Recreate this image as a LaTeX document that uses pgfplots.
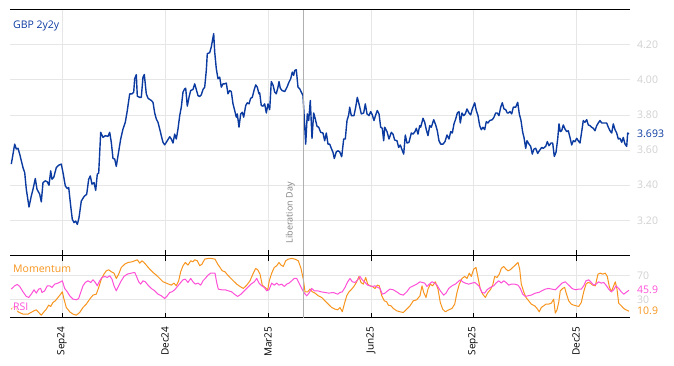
\documentclass[border=0pt]{standalone}
\usepackage{pgfplots}
\pgfplotsset{compat=1.18}
\usepackage{fontspec}
\setmainfont{Open Sans}
\definecolor{gbpblue}{HTML}{0B3AA0}
\definecolor{mom}{HTML}{F7941D}
\definecolor{rsi}{HTML}{FF50D8}
\definecolor{gridgray}{HTML}{E6E6E6}
\definecolor{tickgray}{HTML}{D0D0D0}
\definecolor{libgray}{HTML}{B0B0B0}
\newcommand{\lf}{\fontsize{10.5bp}{12bp}\selectfont}
\newcommand{\tf}{\fontsize{10bp}{12bp}\selectfont}
\begin{document}
\begin{tikzpicture}
\useasboundingbox (0,0) rectangle (674bp,-366bp);
\begin{axis}[
  at={(10bp,-9.5bp)}, anchor=north west,
  width=620bp, height=246bp, scale only axis,
  xmin=10, xmax=630, ymin=3.0, ymax=4.4,
  clip=false,
  separate axis lines,
  axis x line*=box, axis y line*=right,
  x axis line style={black, line width=1bp, -},
  y axis line style={draw=none, -},
  xtick={62,165,268,371,473,576}, xticklabels={},
  xtick pos=lower, tick align=inside,
  major tick length=6bp,
  xtick style={black, line width=0.8bp},
  ytick={3.2,3.4,3.6,3.8,4.0,4.2},
  ytick pos=upper, yticklabel pos=upper,
  ytick style={draw=none},
  yticklabel style={anchor=west, inner sep=0pt, xshift=7bp, text=tickgray, font=\lf},
  /pgf/number format/.cd, fixed, fixed zerofill, precision=2, assume math mode=true,
  /pgfplots/.cd,
  extra y ticks={3.693}, extra y tick labels={3.693},
  extra y tick style={grid=none, yticklabel style={text=gbpblue}},
  grid=major, major grid style={gridgray, line width=0.6bp},
]
\addplot[gbpblue, line width=1.4bp, line join=round] table {
11.3 3.52
14.7 3.634
16.3 3.606
18 3.61
19.7 3.577
23 3.50
24.7 3.472
26.3 3.377
29 3.276
31.3 3.339
33 3.377
35.3 3.438
37 3.377
39.7 3.349
41.3 3.305
43 3.415
45.3 3.425
47.3 3.419
49 3.40
50.7 3.482
52 3.434
53.7 3.444
56.3 3.50
58.7 3.514
61.3 3.52
63 3.472
65.3 3.396
67.3 3.381
68.7 3.387
70.7 3.282
72.3 3.206
74 3.187
75.7 3.196
77.3 3.177
79 3.215
81.3 3.31
84 3.335
86.7 3.349
88.7 3.434
90.3 3.453
92 3.406
94 3.415
95.7 3.371
97.3 3.463
98.7 3.469
100.7 3.701
103 3.672
105.3 3.682
108 3.678
109.7 3.701
111.3 3.644
113 3.552
114.7 3.549
116.3 3.507
118 3.568
120.7 3.663
123 3.72
125.3 3.758
127.3 3.825
129.7 3.92
132 3.92
133.7 3.93
134.7 4.006
136.3 4.029
137.3 3.907
139.7 3.90
141.3 3.90
143 4.015
144.3 4.03
146.3 3.92
148 3.895
151.3 3.882
153 3.872
154.7 3.811
156.3 3.777
158 3.758
159.7 3.72
161.3 3.682
163 3.644
164.7 3.63
166.3 3.644
169.7 3.676
171.3 3.663
173 3.64
174.7 3.691
176.3 3.663
178 3.72
179.7 3.796
181.3 3.844
183 3.93
184.7 3.949
185.7 3.952
187.3 3.85
189 3.90
190.7 3.939
193 3.945
194.7 3.977
196.3 3.945
198 3.91
199.7 3.905
201.3 3.914
203 3.945
204.7 3.958
206.3 4.053
207.3 4.149
209.7 4.154
211.3 4.187
213.7 4.263
214.7 4.158
216.3 4.063
218 4.006
219.7 4.015
221.3 3.958
223 3.977
224.7 3.977
226.3 3.981
228 3.92
229.7 3.939
231.3 3.933
233 3.863
234.7 3.825
236.3 3.787
237.3 3.806
239 3.73
240.7 3.806
242.3 3.815
243.7 3.787
245.7 3.853
247.3 3.869
249 3.863
250.7 3.895
252.3 3.90
254 3.939
255.7 3.971
257.3 3.958
259 3.92
259.7 3.926
261.3 3.853
263 3.85
264.7 3.863
266.3 3.811
268 3.863
269.7 3.83
271.3 3.99
273 3.971
274.7 3.93
276.3 3.92
278 3.958
279 3.99
280.3 3.952
282 3.939
284.7 3.933
287 3.958
289 3.987
290.7 4.006
292.3 4.044
293.7 4.025
294.7 4.053
296.3 4.057
298 3.958
299.7 3.949
301.3 3.93
303 3.91
304.7 3.739
305.7 3.634
307.3 3.806
308.7 3.768
310.3 3.882
312 3.667
313.7 3.811
315.3 3.777
317 3.735
318.7 3.73
320.7 3.701
323 3.697
324.7 3.653
326.3 3.697
328 3.634
329.7 3.634
331.3 3.61
333 3.587
334.3 3.552
336.3 3.59
338 3.596
339.7 3.59
341.7 3.562
343.7 3.663
345.3 3.663
347 3.768
348.7 3.80
349.7 3.844
351.3 3.796
354 3.796
355.7 3.844
357.3 3.90
359 3.863
361.3 3.806
363.7 3.811
365.3 3.863
367 3.806
369 3.796
370.7 3.819
372.3 3.80
374 3.768
375.7 3.80
377.3 3.825
379 3.806
380.7 3.73
382.3 3.724
383.7 3.653
384.7 3.73
387 3.705
389 3.663
391.3 3.701
393 3.691
394.7 3.657
397 3.653
398.7 3.615
400.3 3.629
402 3.602
403.7 3.577
405.3 3.686
407 3.64
409 3.644
411.3 3.697
413 3.691
415 3.705
416.3 3.724
418 3.691
419.7 3.739
420.7 3.73
423 3.781
424.7 3.758
426.3 3.716
428 3.682
429.7 3.739
431.3 3.73
433.7 3.773
435.7 3.743
437.3 3.71
439 3.653
440.7 3.634
443 3.634
445 3.648
447 3.686
449 3.663
450.7 3.705
452.3 3.697
454 3.749
455.7 3.777
457.3 3.811
459 3.819
460.3 3.754
462 3.811
463.7 3.796
465.3 3.806
467 3.834
469 3.811
470.7 3.80
472.3 3.834
474.7 3.869
476.3 3.825
478 3.796
479.7 3.739
481.3 3.716
483 3.73
484.7 3.716
486.3 3.762
488 3.754
489.7 3.768
492.3 3.773
494 3.787
495.7 3.811
497.3 3.811
499 3.796
500.7 3.844
502.3 3.869
504 3.834
505.7 3.83
507.3 3.811
508.3 3.811
510 3.819
511.7 3.806
513.3 3.844
515.7 3.844
517.7 3.872
519.3 3.806
521 3.768
522.7 3.701
524 3.672
525.7 3.61
527 3.653
529 3.634
530.7 3.621
532.3 3.577
534 3.606
535.7 3.61
537.7 3.581
539.3 3.596
541.7 3.615
543.3 3.61
545.7 3.621
547.3 3.648
549 3.625
551 3.64
552.7 3.64
554.3 3.564
556 3.587
557.7 3.663
559 3.749
560.3 3.705
561.7 3.71
563.3 3.743
565 3.72
566.7 3.705
568.3 3.71
570 3.672
571.7 3.629
573.3 3.653
575 3.648
576.7 3.667
578.3 3.653
580 3.64
581.7 3.705
583.3 3.768
585 3.758
586.7 3.773
588.3 3.743
590 3.739
591.7 3.73
593.3 3.724
595 3.71
596.7 3.739
598.3 3.754
600 3.768
601.7 3.754
604.3 3.754
606.7 3.754
608.3 3.73
610 3.71
611.7 3.697
613.3 3.749
615 3.716
616.7 3.697
618.3 3.663
620 3.667
621.7 3.644
623.3 3.672
625 3.634
626.7 3.621
627.7 3.697
629 3.693
};
\draw[libgray, line width=0.8bp] (axis cs:303,3.0) -- (axis cs:303,4.4);
\node[rotate=90, anchor=south west, inner sep=0pt, text=gray, font=\fontsize{9bp}{10bp}\selectfont]
  at ([xshift=-8bp,yshift=12bp]axis cs:303,3.0) {Liberation Day};
\node[anchor=west, inner sep=0pt, text=gbpblue, font=\lf] at ([xshift=3bp,yshift=-16bp]rel axis cs:0,1) {GBP 2y2y};
\draw[black, line width=1bp] (rel axis cs:0,1) -- (rel axis cs:1,1);
\end{axis}

\begin{axis}[
  at={(10bp,-255.5bp)}, anchor=north west,
  width=620bp, height=62bp, scale only axis,
  xmin=10, xmax=630, ymin=0.5, ymax=103.8,
  clip=false,
  separate axis lines,
  axis x line*=box, axis y line*=right,
  x axis line style={black, line width=1bp, -},
  y axis line style={draw=none, -},
  xtick={62,165,268,371,473,576},
  xticklabels={Sep24,Dec24,Mar25,Jun25,Sep25,Dec25},
  xtick pos=both, xticklabel pos=lower, tick align=inside,
  major tick length=5bp,
  xtick style={black, line width=0.8bp},
  xticklabel style={rotate=90, anchor=east, inner sep=0pt, xshift=-9bp, text=black, font=\tf},
  ytick={30,70},
  ytick pos=upper, yticklabel pos=upper,
  ytick style={draw=none},
  yticklabel style={anchor=west, inner sep=0pt, xshift=7bp, text=tickgray, font=\lf},
  /pgf/number format/assume math mode=true,
  extra y ticks={45.9,10.9},
  extra y tick labels={\textcolor{rsi}{45.9},\textcolor{mom}{10.9}},
  extra y tick style={grid=none},
  grid=major, major grid style={gridgray, line width=0.6bp},
]
\addplot[mom, line width=1bp, line join=round] table {
11.3 14.4
14.7 20
18 10
23 6.1
28 6.1
34 11.7
36.3 13.3
38.7 8.9
41.3 4.4
44 10
46.3 14.4
48.7 21.1
50.7 18.9
53 25.6
55.3 28.3
58 33.9
60.7 39.4
62.3 43.3
64 31.1
66.3 17.2
69.7 10
73 6.1
76.3 4.4
79.7 8.9
83 17.2
86.3 22.8
89.7 31.1
93 37.8
96.3 39.4
98.7 50.6
101.3 64.4
104 72.8
106.3 78.3
108.7 80
111.3 76.7
114 74.4
116.3 65.6
118.7 72.8
121.3 83.9
124.7 89.4
128 92.2
132 93.3
134.7 95
137.3 96.7
139.7 91.1
142 95
144 92.2
146.3 87.8
149.7 81.1
153 75.6
156.3 71.1
159.7 65.6
163 60
166.3 57.8
168.7 56.1
171.3 54.4
174 57.8
176.3 53.3
178.7 61.7
180.7 76.7
183 86.7
185.3 92.2
188 87.8
190.7 95
193 93.3
194.7 96.7
197.3 95
199.7 86.7
202 89.4
204.7 97.8
208 98.9
211.3 98.9
215 97.8
217.7 89.4
220 83.9
222.3 78.3
225 76.7
227.7 71.1
230 67.2
233.3 61.7
236.7 56.1
240 52.2
243.3 48.9
246.7 54.4
250 61.7
253.3 74.4
255.7 82.2
257.7 80
260 72.8
262.3 54.4
265 50.6
267.7 46.7
269.3 61.7
271.7 74.4
274.3 83.9
276.7 86.7
279 92.2
281 87.8
283.3 85.6
285.7 95
288.3 97.8
291.7 98.9
295 97.8
298.3 95
301 82.2
303.3 64.4
305 43.3
307.7 43.3
310 47.8
312.3 43.3
315 41.1
318.3 36.7
321.7 33.9
325 28.3
328.3 22.8
331.7 17.2
335 14.4
337.7 13.3
340 17.2
342.3 10
344.3 22.8
346.7 36.7
349 43.3
351.7 47.8
354.3 53.3
356.7 60
359 68.9
361 58.9
363.3 56.1
365.7 67.2
367.7 56.1
370 53.3
372.3 52.2
375 48.9
377.3 54.4
379.3 53.3
381.7 36.7
384.3 28.3
386.7 26.7
388.3 21.1
391 20
393.3 15.6
396.7 11.7
400 10
403.3 8.9
406.7 14.4
410 20
413.3 28.3
416.7 30
420 36.7
422 53.3
423.7 42.2
426 33.9
428 47.8
430.3 56.1
432.7 53.3
435.3 60
438 47.8
440.3 25.6
442.7 14.4
445.3 10
448.7 13.3
452 15.6
454.7 22.8
457 42.2
459.3 56.1
462 65.6
464.7 68.9
467 65.6
469.3 74.4
471.3 68.9
473.7 81.1
476 83.9
478 67.2
480.3 47.8
482.7 39.4
485.3 33.9
488 42.2
490.3 46.7
492.7 54.4
494.7 68.9
497 67.2
499.3 72.8
501.3 82.2
503.7 85.6
506 81.1
508 78.3
510.3 80
512.7 83.9
515.3 87.8
518 92.2
519.7 81.1
521.3 56.1
523.7 43.3
526 33.9
528.7 28.3
531.3 22.8
534.7 20
537 15.6
539.3 10
541.3 17.2
543.7 20
546 22.8
548.7 22.8
551.3 24.4
553.7 31.1
555.3 7.8
557 13.3
558.7 25.6
560.3 45
562.7 48.9
564.7 50.6
566 42.2
568.7 28.3
571.3 22.8
573.7 21.1
576 20
578.7 18.9
581.3 25.6
583.7 43.3
586 56.1
588 58.9
590.3 57.8
592.7 54.4
595.3 53.3
598 72.8
600.3 74.4
602.7 72.8
605.3 74.4
607.3 68.9
609.3 52.2
611.3 43.3
613.7 53.3
615.3 60
617 47.8
618.7 24.4
621.3 20
623.7 15.6
626 13.3
629 10.9
};
\addplot[rsi, line width=1bp, line join=round] table {
11.3 47.8
14.7 53.3
17.3 55.6
19.7 52.2
23 43.3
26.3 35.6
28.7 33.9
31.3 39.4
34 46.7
36.3 41.1
38.7 47.8
40.7 48.9
42 42.2
44.7 45
47.3 53.3
49.7 53.3
52 50.6
54.7 56.1
58 57.8
60.7 60
62.3 61.7
64.7 48.9
67.3 43.3
69.7 36.7
73 31.1
76.3 30
78.7 32.2
80.7 42.2
83 53.3
85.3 58.9
88 61.7
90.7 58.9
93 63.3
95.3 58.9
97.3 53.3
99.7 61.7
102 67.2
104.7 68.9
107.3 67.2
109.7 70
112 64.4
114 53.3
116.3 45
118.7 53.3
121.3 61.7
124 68.9
127.3 72.8
131.3 74.4
134.7 75.6
136.3 70
138.7 60
140.7 56.1
143 61.7
145.3 60
148 54.4
151.3 48.9
154.7 45
158 39.4
161.3 36.7
164.7 32.2
167.3 36.7
169.7 42.2
172 43.3
174.7 46.7
178 53.3
180.7 58.9
183 63.3
185.3 64.4
188 58.9
190.7 65.6
193 60
195.3 56.1
198 57.8
200.7 54.4
203 61.7
205.3 65.6
208 71.1
210.7 74.4
213 74.4
215 74.4
216.7 58.9
218.3 47.8
221.7 46.7
225 46.7
228.3 45
231.7 43.3
234.3 39.4
237.7 35.6
241 39.4
244.3 45
247.7 50.6
251 56.1
254.3 60
256.7 65.6
259 57.8
261.7 53.3
264.3 50.6
266.7 45
269 46.7
271.7 57.8
274.3 54.4
276.7 57.8
279 54.4
281.7 56.1
284.3 52.2
286.7 56.1
289 57.8
291.7 61.7
294.3 65.6
296.7 65.6
299 57.8
301.7 48.9
304.3 41.1
306.7 36.7
309 41.1
311.7 48.9
314.3 45
317.7 45
321 43.3
325 42.2
329 41.1
333.3 42.2
337.7 39.4
340 42.2
342.3 43.3
345 50.6
347.7 60
350 65.6
352.3 60
355 58.9
357.7 63.3
360 68.9
362.3 63.3
365 58.9
367.7 54.4
370 53.3
372.3 52.2
375 53.3
377.7 50.6
380 48.9
382.3 39.4
385 41.1
387.7 45
390 47.8
393.3 46.7
396.7 43.3
400 39.4
403.3 37.8
406.7 43.3
410 50.6
413.3 53.3
416.7 56.1
420 60
422 58.9
424.7 57.8
427 52.2
429.3 56.1
432 60
434.7 57.8
437 54.4
440.3 45
443.7 37.8
446 41.1
448.7 48.9
452 53.3
455.3 56.1
458 60
460.3 63.3
462.7 60
465.3 57.8
468.7 56.1
472 57.8
474.7 58.9
477 56.1
479.3 52.2
482 42.2
484.7 41.1
487 46.7
490.3 50.6
493.7 53.3
496 57.8
498.7 61.7
501.3 57.8
503.7 61.7
506 58.9
508.7 54.4
511.3 56.1
514.7 56.1
518 54.4
520.3 48.9
522.7 39.4
525.3 35.6
528 36.7
531.3 37.8
535.3 41.1
538.7 42.2
542 45
545.3 47.8
548.7 48.9
552 47.8
555.3 46.7
558.7 52.2
562 57.8
565.3 60
568.7 54.4
572 48.9
575.3 46.7
578.7 47.8
581.3 47.8
583.7 53.3
586 61.7
588.7 63.3
591.3 58.9
593.7 54.4
596 56.1
598.7 60
601.3 57.8
603.7 58.9
606 54.4
608.7 47.8
611.3 43.3
613.7 46.7
616 53.3
618.7 48.9
621.3 43.3
623.7 39.4
626 42.2
629 45.9
};
\draw[libgray, line width=0.8bp] (axis cs:303,0.5) -- (axis cs:303,103.8);
\node[anchor=west, inner sep=0pt, text=mom, font=\lf] at ([xshift=3bp,yshift=-13bp]rel axis cs:0,1) {Momentum};
\node[anchor=west, inner sep=1pt, fill=white, fill opacity=0.75, text opacity=1, text=rsi, font=\lf] at ([xshift=2bp,yshift=11bp]rel axis cs:0,0) {RSI};
\end{axis}
\end{tikzpicture}
\end{document}
